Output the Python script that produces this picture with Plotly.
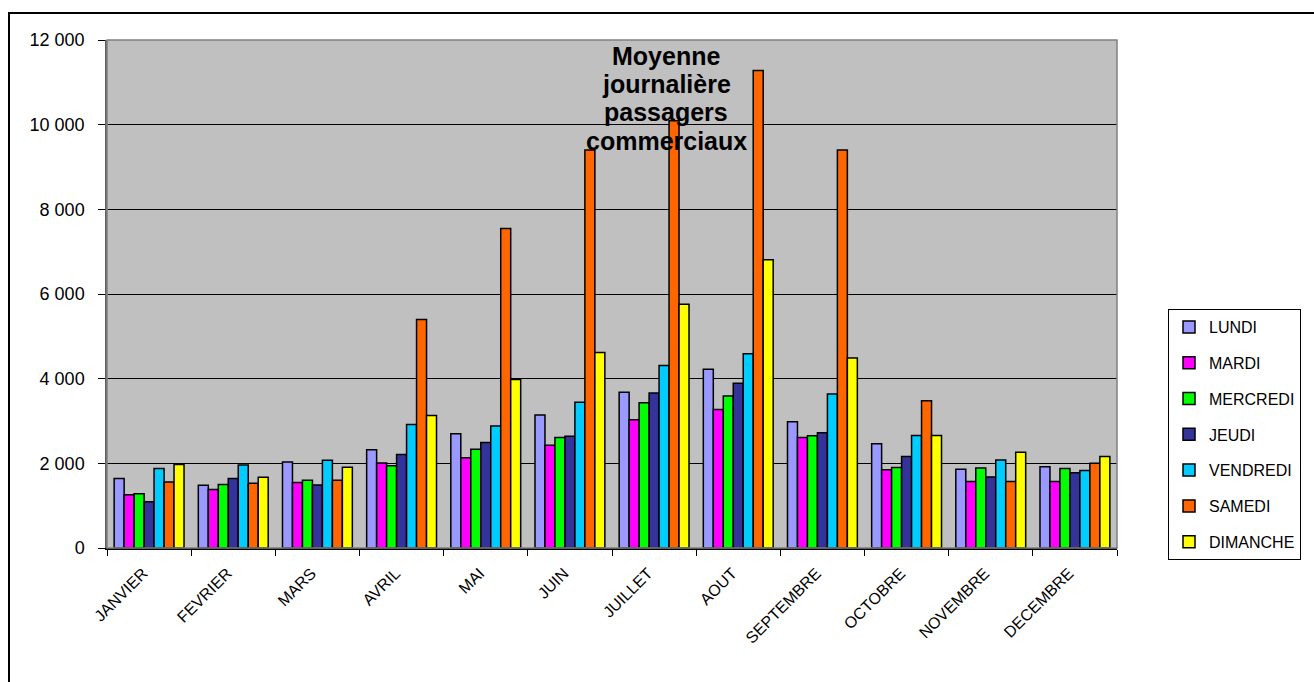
import plotly.graph_objects as go

months = ["JANVIER", "FEVRIER", "MARS", "AVRIL", "MAI", "JUIN", "JUILLET",
          "AOUT", "SEPTEMBRE", "OCTOBRE", "NOVEMBRE", "DECEMBRE"]

lundi    = [1640, 1480, 2030, 2320, 2700, 3140, 3680, 4220, 2980, 2460, 1860, 1920]
mardi    = [1260, 1380, 1550, 2010, 2130, 2430, 3030, 3270, 2610, 1850, 1570, 1570]
mercredi = [1280, 1500, 1600, 1940, 2330, 2610, 3430, 3590, 2650, 1900, 1890, 1880]
jeudi    = [1090, 1640, 1490, 2210, 2490, 2640, 3660, 3890, 2720, 2160, 1680, 1780]
vendredi = [1880, 1960, 2070, 2920, 2880, 3440, 4310, 4590, 3640, 2660, 2080, 1830]
samedi   = [1560, 1530, 1600, 5400, 7550, 9400, 10090, 11280, 9400, 3480, 1570, 2000]
dimanche = [1970, 1670, 1910, 3130, 3980, 4620, 5760, 6810, 4490, 2660, 2260, 2160]

series_names = ["LUNDI", "MARDI", "MERCREDI", "JEUDI", "VENDREDI", "SAMEDI", "DIMANCHE"]
series_values = [lundi, mardi, mercredi, jeudi, vendredi, samedi, dimanche]
series_colors = ["#9999FF", "#FF00FF", "#00FF00", "#333399", "#00CCFF", "#FF6600", "#FFFF00"]

title_lines = ["Moyenne", "journalière", "passagers", "commerciaux"]

W, H = 1314, 682
L, R, T, B = 107, 197, 40, 134
PW, PH = W - L - R, H - T - B


def px(x):
    return (x - L) / PW


def py(y):
    return (H - B - y) / PH


fig = go.Figure()
for i, (name, vals, col) in enumerate(zip(series_names, series_values, series_colors)):
    fig.add_trace(go.Bar(
        x=months, y=vals, name=name, legendgroup=name,
        marker=dict(color=col, line=dict(color="black", width=1.5)),
    ))

font = dict(family="Arial, Liberation Sans, sans-serif", color="black")

fig.update_layout(
    width=W, height=H,
    margin=dict(l=L, r=R, t=T, b=B, pad=0),
    paper_bgcolor="white",
    plot_bgcolor="#C0C0C0",
    barmode="group",
    bargap=0.17,
    bargroupgap=0,
    separators=", ",
    font=dict(size=16, **font),
    showlegend=True,
    legend=dict(
        x=px(1168), y=py(309), xanchor="left", yanchor="top",
        bordercolor="black", borderwidth=1, bgcolor="white",
        font=dict(size=16, **font),
        traceorder="grouped", tracegroupgap=12,
        itemwidth=30,
    ),
    xaxis=dict(
        type="category", tickangle=-45, tickson="boundaries",
        ticks="outside", ticklen=6, tickcolor="black",
        showline=True, linecolor="black", linewidth=1.5,
        showgrid=False, tickfont=dict(size=16, **font),
        ticklabelstandoff=8, ticklabelshift=-6,
    ),
    yaxis=dict(
        range=[0, 12000], dtick=2000, tickformat=",d",
        ticks="outside", ticklen=7, tickcolor="black",
        showline=True, linecolor="#606060", linewidth=1.5,
        showgrid=True, gridcolor="black", gridwidth=1,
        zeroline=False, tickfont=dict(size=18, **font),
        ticklabelstandoff=10,
    ),
)

# plot-area border (gray) and outer chart frame
fig.add_shape(type="rect", xref="paper", yref="paper", x0=0, x1=1, y0=0, y1=1,
              line=dict(color="#808080", width=1.5), layer="above")
fig.add_shape(type="rect", xref="paper", yref="paper",
              x0=px(9), x1=px(1330), y0=py(700), y1=py(13),
              line=dict(color="black", width=2), layer="above")

line_y = [56, 84, 112, 141]
for txt, yy in zip(title_lines, line_y):
    fig.add_annotation(
        text=f"<b>{txt}</b>", xref="paper", yref="paper",
        x=px(666), y=py(yy), xanchor="center", yanchor="middle",
        showarrow=False, font=dict(size=25, **font),
    )

fig.write_html("out.html", config={"displayModeBar": False},
               post_script="document.body.style.margin='0';")
